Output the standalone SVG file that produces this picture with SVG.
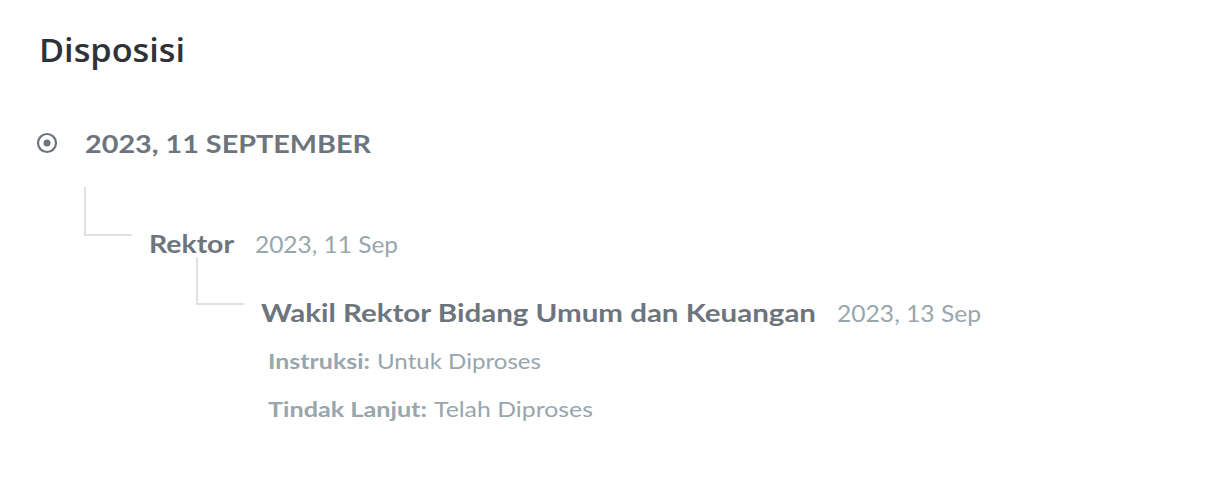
<svg xmlns="http://www.w3.org/2000/svg" width="1224" height="488" viewBox="0 0 1224 488">
<style>
.t{font-family:Lato,"Open Sans","Noto Sans",sans-serif}
.title{font-family:"Open Sans",Lato,sans-serif;font-weight:600;font-size:32px;fill:#2f3237}
.h{font-weight:700;font-size:25.5px;fill:#6c757d}
.d{font-weight:400;font-size:23.5px;fill:#98a6ad}
.lb{font-weight:700;font-size:21.5px;fill:#98a6ad}
.lv{font-weight:400;font-size:21.5px;fill:#98a6ad}
.conn{fill:none;stroke:#dee2e6;stroke-width:2}
</style>
<rect width="1224" height="488" fill="#ffffff"/>
<text class="title" x="39" y="62" textLength="146" lengthAdjust="spacingAndGlyphs">Disposisi</text>
<g id="node-date">
<circle cx="47" cy="143" r="9" fill="none" stroke="#6c757d" stroke-width="2.2"/>
<circle cx="47" cy="143" r="3.5" fill="#6c757d"/>
<text class="t h" x="85" y="153" textLength="286" lengthAdjust="spacingAndGlyphs">2023, 11 SEPTEMBER</text>
</g>
<g id="connectors">
<polyline class="conn" points="85,187 85,235 132,235"/>
<polyline class="conn" points="197,257 197,304 244,304"/>
</g>
<g id="node-rektor">
<text class="t h" x="149" y="253" textLength="85" lengthAdjust="spacingAndGlyphs">Rektor</text>
<text class="t d" x="255" y="253" textLength="143" lengthAdjust="spacingAndGlyphs">2023, 11 Sep</text>
</g>
<g id="node-wakil">
<text class="t h" x="261" y="322" textLength="555" lengthAdjust="spacingAndGlyphs">Wakil Rektor Bidang Umum dan Keuangan</text>
<text class="t d" x="837" y="322" textLength="144" lengthAdjust="spacingAndGlyphs">2023, 13 Sep</text>
<text class="t lb" x="268" y="369" textLength="102" lengthAdjust="spacingAndGlyphs">Instruksi:</text>
<text class="t lv" x="377" y="369" textLength="164" lengthAdjust="spacingAndGlyphs">Untuk Diproses</text>
<text class="t lb" x="268" y="417" textLength="159" lengthAdjust="spacingAndGlyphs">Tindak Lanjut:</text>
<text class="t lv" x="434" y="417" textLength="159" lengthAdjust="spacingAndGlyphs">Telah Diproses</text>
</g>
</svg>
